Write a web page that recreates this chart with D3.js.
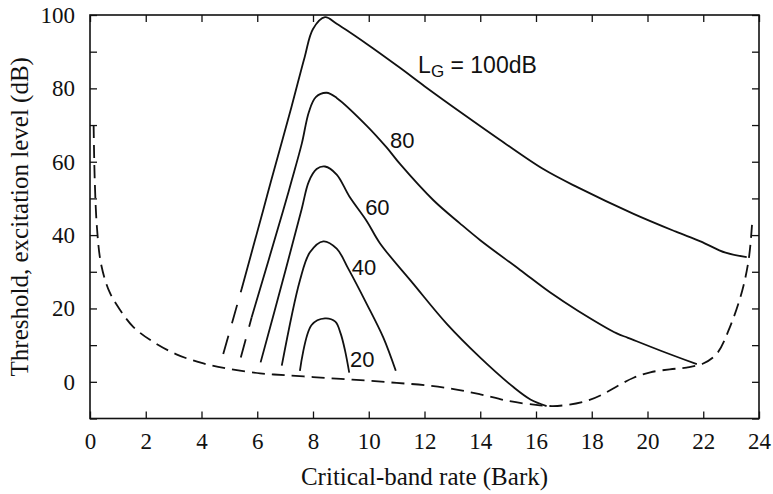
<!DOCTYPE html>
<html>
<head>
<meta charset="utf-8">
<script src="https://cdn.jsdelivr.net/npm/d3@7"></script>
<style>
  body { margin: 0; background: #fff; }
  svg { display: block; }
</style>
</head>
<body>
<div id="chart"></div>
<script>
// threshold in quiet (dashed), [bark, dB]
var threshold = [[0.13,70],[0.17,55],[0.25,42],[0.4,32],[0.7,24.5],[1.08,19.6],[1.55,15],[2.2,11.2],
  [3.1,7.5],[4.07,5.0],[5.0,3.5],[6.1,2.3],[7,1.8],[8,1.3],[9,0.8],[10,0.3],[11,-0.3],[12,-0.9],
  [13,-1.9],[14,-3.4],[15,-5.2],[16,-6.3],[16.6,-6.6],[17.2,-6.2],[17.9,-5.0],[18.4,-3.4],[19,-0.8],
  [19.5,1.1],[20.1,2.6],[20.8,3.4],[21.4,3.9],[22.0,5.0],[22.5,7.8],[22.96,15],[23.4,24.9],[23.64,33.9],[23.76,44]];

// excitation levels, LG = 100 / 80 / 60 / 40 / 20 dB
var lg100 = [[5.44,25.3],[6.22,47],[6.49,54.6],[7.23,75],[7.7,88.5],[8.0,96.2],[8.43,99.4],[8.85,97.6],
  [9.93,92.1],[11.12,85.6],[12,80.6],[13.5,72.4],[14.7,66],[16.26,58],[17.5,53],[19.5,45.8],
  [21,41],[21.9,38.3],[22.8,35.2],[23.56,34]];
var lg100Tail = [[4.78,7.6],[5.44,25.3]];
var lg80 = [[5.8,17.6],[6.93,46.7],[7.24,55],[7.6,65],[7.85,73.5],[8.1,77.6],[8.49,78.8],
  [8.85,77.4],[9.93,69.8],[10.64,63.9],[11.12,59.4],[12.32,49.5],[13.27,43.2],[14,38.6],[15.43,30.5],
  [16.5,24.4],[17.5,19.4],[18.9,13.2],[19.3,12],[20.5,8.4],[21.77,4.8]];
var lg80Tail = [[5.41,6.6],[5.8,17.6]];
var lg60 = [[6.12,5.3],[7.0,30],[7.59,47],[7.85,54.6],[8.13,58],[8.43,58.7],[8.85,56.5],[9.3,50.6],
  [9.93,43.8],[10.4,37.8],[11.6,26.7],[12.8,15.8],[14.0,6.6],[15.2,-1.5],[15.8,-4.8],[16.38,-6.6]];
var lg40 = [[6.88,4.4],[7.53,27.6],[7.89,35.3],[8.37,38.3],[8.85,36.3],[9.27,30.8],[9.93,21.2],
  [10.52,12.1],[10.97,3.0]];
var lg20 = [[7.53,3.0],[7.95,15.5],[8.43,17.3],[8.8,16.4],[8.99,13.2],[9.15,8.5],[9.3,2.5]];

var xTicks = [0,2,4,6,8,10,12,14,16,18,20,22,24];
var yTicks = [-10,0,10,20,30,40,50,60,70,80,90,100];
var yTickLabels = [0,20,40,60,80,100];

// curve labels: [bark, dB, text]
var curveLabels = [[10.76,63.7,"80"],[9.87,45.6,"60"],[9.39,29.1,"40"],[9.33,4.0,"20"]];

var width = 773, height = 494;
var mLeft = 90, mRight = 759, mTop = 15, mBottom = 418.5;

var svg = d3.select("#chart").append("svg")
  .attr("width", width)
  .attr("height", height);

var x = d3.scaleLinear().domain([0,24]).range([mLeft,mRight]);
var y = d3.scaleLinear().domain([-10,100]).range([mBottom,mTop]);

var line = d3.line()
  .x(function(d){ return x(d[0]); })
  .y(function(d){ return y(d[1]); })
  .curve(d3.curveCatmullRom.alpha(0.5));

//axes, ticks pointing inward on all four sides
svg.append("g")
  .attr("transform","translate(0," + mBottom + ")")
  .call(d3.axisBottom(x).tickValues(xTicks).tickSize(-7).tickPadding(14).tickFormat(d3.format("d")));
svg.append("g")
  .attr("transform","translate(0," + mTop + ")")
  .call(d3.axisTop(x).tickValues(xTicks).tickSize(-7).tickFormat(""));
svg.append("g")
  .attr("transform","translate(" + mLeft + ",0)")
  .call(d3.axisLeft(y).tickValues(yTicks).tickSize(-7).tickPadding(15)
    .tickFormat(function(d){ return yTickLabels.indexOf(d) >= 0 ? d : ""; }));
svg.append("g")
  .attr("transform","translate(" + mRight + ",0)")
  .call(d3.axisRight(y).tickValues(yTicks).tickSize(-7).tickFormat(""));

svg.selectAll(".domain").remove();
svg.selectAll(".tick line").attr("stroke","#111").attr("stroke-width",1.3);
svg.selectAll(".tick text")
  .attr("fill","#111")
  .attr("font-family","'Liberation Serif', 'Times New Roman', serif")
  .attr("font-size",23);

//frame
svg.append("rect")
  .attr("x",mLeft)
  .attr("y",mTop)
  .attr("width",mRight-mLeft)
  .attr("height",mBottom-mTop)
  .attr("fill","none")
  .attr("stroke","#111")
  .attr("stroke-width",1.6);

//threshold in quiet
svg.append("path")
  .datum(threshold)
  .attr("d",line)
  .attr("fill","none")
  .attr("stroke","#111")
  .attr("stroke-width",1.8)
  .attr("stroke-dasharray","13,7");

//excitation curves
[lg100,lg80,lg60,lg40,lg20].forEach(function(s){
  svg.append("path")
    .datum(s)
    .attr("d",line)
    .attr("fill","none")
    .attr("stroke","#111")
    .attr("stroke-width",1.8);
});
[lg100Tail,lg80Tail].forEach(function(s){
  svg.append("path")
    .datum(s)
    .attr("d",line)
    .attr("fill","none")
    .attr("stroke","#111")
    .attr("stroke-width",1.8)
    .attr("stroke-dasharray","19,13");
});

//labels
svg.selectAll(".clabel")
  .data(curveLabels)
  .enter().append("text")
  .attr("class","clabel")
  .attr("x",function(d){ return x(d[0]); })
  .attr("y",function(d){ return y(d[1]); })
  .attr("font-family","'Liberation Sans', Arial, sans-serif")
  .attr("font-size",22)
  .attr("fill","#111")
  .text(function(d){ return d[2]; });

var lgLabel = svg.append("text")
  .attr("x",x(11.77))
  .attr("y",y(84.2))
  .attr("font-family","'Liberation Sans', Arial, sans-serif")
  .attr("font-size",23)
  .attr("fill","#111");
lgLabel.append("tspan").text("L");
lgLabel.append("tspan").attr("font-size",17).attr("dy",4).text("G");
lgLabel.append("tspan").attr("dy",-4).text(" = 100dB");

//axis titles
svg.append("text")
  .attr("x",(mLeft+mRight)/2)
  .attr("y",485)
  .attr("text-anchor","middle")
  .attr("font-family","'Liberation Serif', 'Times New Roman', serif")
  .attr("font-size",25)
  .attr("fill","#111")
  .text("Critical-band rate (Bark)");

svg.append("text")
  .attr("transform","translate(28," + ((mTop+mBottom)/2) + ") rotate(-90)")
  .attr("text-anchor","middle")
  .attr("font-family","'Liberation Serif', 'Times New Roman', serif")
  .attr("font-size",25)
  .attr("fill","#111")
  .text("Threshold, excitation level (dB)");
</script>
</body>
</html>
